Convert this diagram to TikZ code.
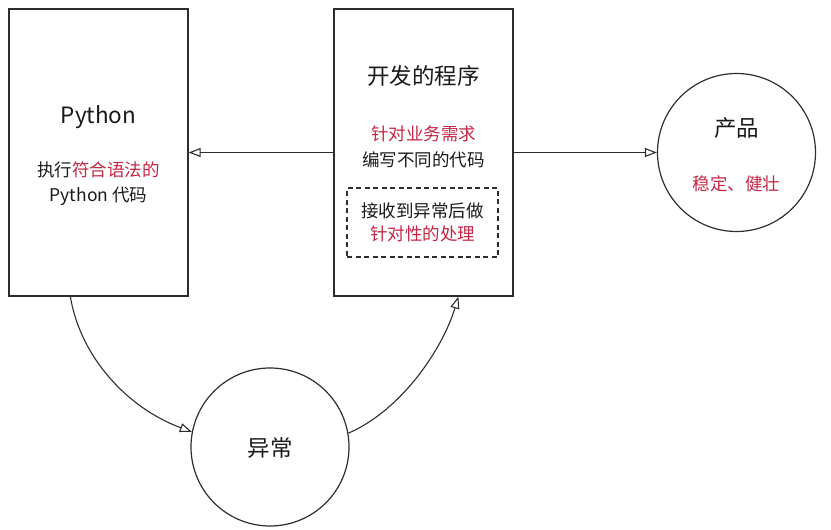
\documentclass[tikz,border=0pt]{standalone}
\usepackage{fontspec}
\setmainfont{Noto Sans CJK SC}
\usetikzlibrary{arrows.meta,calc}
\definecolor{hl}{RGB}{196,38,68}
\definecolor{ln}{RGB}{45,45,45}
\definecolor{tx}{RGB}{25,25,25}
\tikzset{
  boxnode/.style={draw=ln, line width=1.3pt, minimum width=179pt, minimum height=287pt, inner sep=0pt},
  dashbox/.style={draw=ln, line width=1.2pt, dashed, dash pattern=on 5pt off 3.5pt, minimum width=151pt, minimum height=69pt, inner sep=0pt},
  circnode/.style={draw=ln, line width=1.2pt, circle, minimum size=158pt, inner sep=0pt},
  title/.style={anchor=base, inner sep=0pt, text=tx, font=\fontsize{22.5}{26}\selectfont},
  body/.style={anchor=base, inner sep=0pt, text=tx, font=\fontsize{17.5}{21}\selectfont},
  arr/.style={draw=ln, line width=1.1pt, -{Triangle[open, length=12pt, width=9pt]}},
}
\begin{document}
\begin{tikzpicture}[x=1pt, y=-1pt]
\useasboundingbox (0,0) rectangle (831,530);
% boxes
\node[boxnode] (py) at (98.5,152.5) {};
\node[boxnode] (dev) at (423.5,152.5) {};
\node[dashbox] (dsh) at (422.5,222.5) {};
\node[circnode] (prod) at (736.5,152.5) {};
\node[circnode] (exc) at (270,447) {};
% texts
\node[title] (pyt) at (98.5,123) {Python};
\node[body] (py1) at (98.5,176.5) {执行\textcolor{hl}{符合语法的}};
\node[body] (py2) at (98.5,201.5) {Python 代码};
\node[title] (devt) at (423.5,84.5) {开发的程序};
\node[body, text=hl] (dev1) at (423.5,140) {针对业务需求};
\node[body] (dev2) at (423.5,166) {编写不同的代码};
\node[body] (ds1) at (422.5,217.5) {接收到异常后做};
\node[body, text=hl] (ds2) at (422.5,240) {针对性的处理};
\node[title] (prodt) at (736.5,136) {产品};
\node[body, text=hl] (prod1) at (736.5,190.5) {稳定、健壮};
\node[title] (exct) at (270,456.5) {异常};
% connectors
\draw[arr] (dev.west) -- (py.east);
\draw[arr] (dev.east) -- (prod.west);
\coordinate (c1s) at ($(py.south west)+(62,0)$);
\coordinate (c2e) at ($(dev.south west)+(125,0)$);
\draw[arr] (c1s) .. controls ($(c1s)+(10,60)$) and ($(exc.169)+(-65,-24)$) .. (exc.169);
\draw[arr] (exc.10) .. controls ($(exc.10)+(55,-24)$) and ($(c2e)+(-15,50)$) .. (c2e);
\end{tikzpicture}
\end{document}
